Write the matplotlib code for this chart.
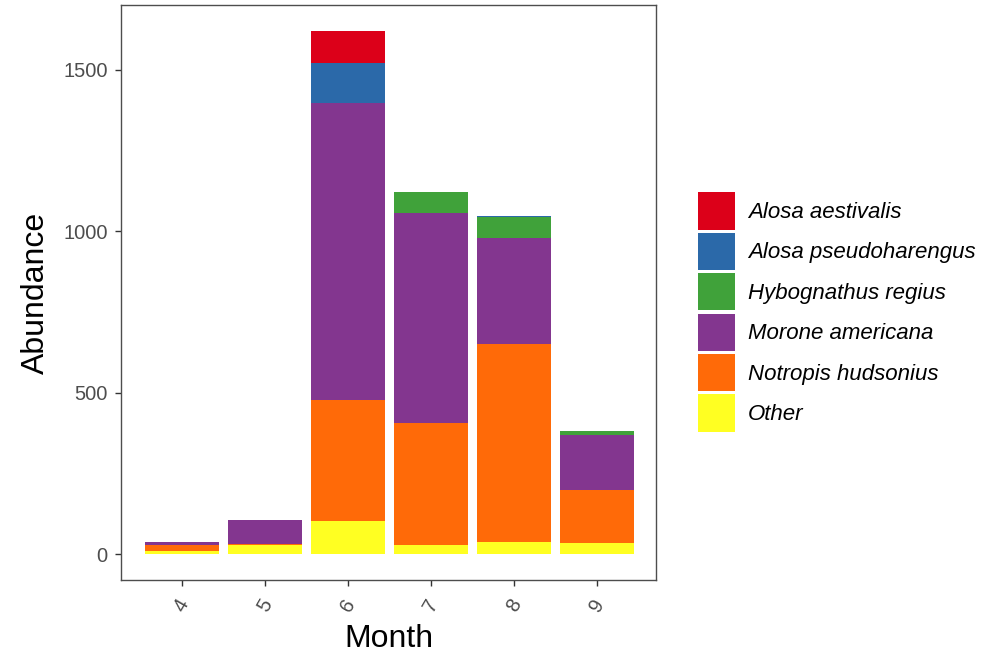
import matplotlib
matplotlib.use("Agg")
import matplotlib.pyplot as plt
from matplotlib.patches import Patch
import numpy as np

plt.rcParams['font.family'] = ['Liberation Sans', 'DejaVu Sans']

months = [4, 5, 6, 7, 8, 9]
species = ["Alosa aestivalis", "Alosa pseudoharengus", "Hybognathus regius",
           "Morone americana", "Notropis hudsonius", "Other"]
colors = ["#DC0019", "#2B69A9", "#40A23A", "#83368F", "#FF6A08", "#FFFF22"]

alosa_aestivalis = [0, 0, 96, 0, 0, 1]
alosa_pseudoharengus = [0, 0, 124, 0, 2, 1]
hybognathus_regius = [0, 0, 0, 66, 65, 12]
morone_americana = [9, 75, 922, 650, 330, 169]
notropis_hudsonius = [18, 3, 374, 377, 613, 163]
other = [10, 28, 102, 28, 37, 36]

values = [alosa_aestivalis, alosa_pseudoharengus, hybognathus_regius,
          morone_americana, notropis_hudsonius, other]

fig = plt.figure(figsize=(9.97, 6.55), dpi=100)
ax = fig.add_axes([121 / 997, 1 - 580 / 655, 535 / 997, 575 / 655])

x = np.arange(len(months))
bottom = np.zeros(len(months))
# stack from the bottom: Other first, Alosa aestivalis on top
for name, col, vals in reversed(list(zip(species, colors, values))):
    vals = np.array(vals, dtype=float)
    ax.bar(x, vals, width=0.9, bottom=bottom, color=col, linewidth=0)
    bottom += vals

ax.set_xlim(-0.735, len(months) - 1 + 0.71)
ax.set_ylim(-80, 1700)
ax.set_xticks(x)
ax.set_xticklabels([str(m) for m in months], rotation=60, ha='center', va='top',
                   fontsize=14.5, color='#4D4D4D')
ax.set_yticks([0, 500, 1000, 1500])
ax.set_yticklabels(["0", "500", "1000", "1500"], fontsize=14.5, color='#4D4D4D')
ax.tick_params(axis='both', length=4.5, width=1, color='#333333')
ax.tick_params(axis='x', pad=7)
ax.tick_params(axis='y', pad=5)
for s in ax.spines.values():
    s.set_color('#4D4D4D')
    s.set_linewidth(1)

ax.set_xlabel("Month", fontsize=23, labelpad=6)
ax.set_ylabel("Abundance", fontsize=23, labelpad=9)

handles = [Patch(facecolor=c, edgecolor='none') for c in colors]
leg = fig.legend(handles, species, loc='center left',
                 bbox_to_anchor=(682 / 997, 1 - 312 / 655),
                 frameon=False, prop={'style': 'italic', 'size': 16},
                 handlelength=1.67, handleheight=2.19, labelspacing=0.15,
                 handletextpad=0.59, borderpad=0.2)

fig.savefig("out.png", dpi=100)
